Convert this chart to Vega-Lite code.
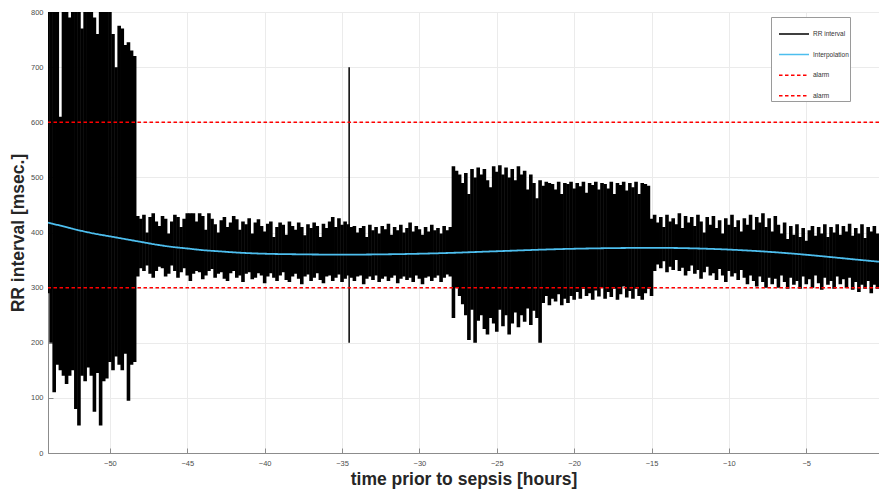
{
  "$schema": "https://vega.github.io/schema/vega-lite/v6.json",
  "width": 831,
  "height": 441,
  "autosize": {"type": "none"},
  "padding": {"left": 48, "top": 12, "right": 0, "bottom": 39},
  "background": "white",
  "config": {
    "font": "Liberation Sans",
    "view": {"stroke": "#8c8c8c", "strokeWidth": 1},
    "axis": {
      "domainColor": "#8c8c8c",
      "tickColor": "#8c8c8c",
      "gridColor": "#ebebeb",
      "grid": true,
      "labelFontSize": 7.5,
      "labelColor": "#4d4d4d",
      "titleFontSize": 17.5,
      "titleFontWeight": "bold",
      "titleColor": "#262626",
      "tickSize": -5
    },
    "legend": {
      "orient": "none",
      "legendX": 723,
      "legendY": 5,
      "symbolType": "stroke",
      "symbolSize": 900,
      "symbolStrokeWidth": 1.5,
      "symbolOffset": 6,
      "labelFontSize": 6.5,
      "labelColor": "#333333",
      "strokeColor": "#9a9a9a",
      "fillColor": "white",
      "padding": 1,
      "rowPadding": 0.6,
      "labelOffset": 3
    }
  },
  "datasets": {
    "rr": [
      {"t":-54.0,"lo":290,"hi":800},{"t":-53.8,"lo":200,"hi":800},{"t":-53.6,"lo":110,"hi":800},{"t":-53.4,"lo":160,"hi":800},
      {"t":-53.2,"lo":150,"hi":610},{"t":-53.0,"lo":140,"hi":800},{"t":-52.8,"lo":125,"hi":800},{"t":-52.6,"lo":140,"hi":790},
      {"t":-52.4,"lo":150,"hi":800},{"t":-52.2,"lo":80,"hi":800},{"t":-52.0,"lo":50,"hi":800},{"t":-51.8,"lo":140,"hi":770},
      {"t":-51.6,"lo":130,"hi":800},{"t":-51.4,"lo":155,"hi":800},{"t":-51.2,"lo":140,"hi":800},{"t":-51.0,"lo":75,"hi":790},
      {"t":-50.8,"lo":145,"hi":760},{"t":-50.6,"lo":50,"hi":800},{"t":-50.4,"lo":130,"hi":800},{"t":-50.2,"lo":135,"hi":800},
      {"t":-50.0,"lo":165,"hi":800},{"t":-49.8,"lo":150,"hi":760},{"t":-49.6,"lo":175,"hi":700},{"t":-49.4,"lo":160,"hi":775},
      {"t":-49.2,"lo":150,"hi":770},{"t":-49.0,"lo":180,"hi":740},{"t":-48.8,"lo":95,"hi":745},{"t":-48.6,"lo":160,"hi":730},
      {"t":-48.4,"lo":165,"hi":720},
      {"t":-48.2,"lo":320,"hi":430},{"t":-48.0,"lo":335,"hi":425},{"t":-47.8,"lo":330,"hi":432},{"t":-47.6,"lo":340,"hi":400},
      {"t":-47.4,"lo":325,"hi":428},{"t":-47.2,"lo":318,"hi":435},{"t":-47.0,"lo":330,"hi":420},{"t":-46.8,"lo":338,"hi":412},
      {"t":-46.6,"lo":335,"hi":430},{"t":-46.4,"lo":320,"hi":425},{"t":-46.2,"lo":325,"hi":398},{"t":-46.0,"lo":340,"hi":420},
      {"t":-45.8,"lo":330,"hi":432},{"t":-45.6,"lo":318,"hi":428},{"t":-45.4,"lo":328,"hi":410},{"t":-45.2,"lo":335,"hi":425},
      {"t":-45.0,"lo":322,"hi":435},{"t":-44.8,"lo":312,"hi":435},{"t":-44.6,"lo":325,"hi":435},{"t":-44.4,"lo":330,"hi":420},
      {"t":-44.2,"lo":328,"hi":435},{"t":-44.0,"lo":315,"hi":430},{"t":-43.8,"lo":322,"hi":405},{"t":-43.6,"lo":330,"hi":435},
      {"t":-43.4,"lo":334,"hi":425},{"t":-43.2,"lo":318,"hi":415},{"t":-43.0,"lo":325,"hi":400},{"t":-42.8,"lo":328,"hi":422},
      {"t":-42.6,"lo":316,"hi":428},{"t":-42.4,"lo":312,"hi":410},{"t":-42.2,"lo":326,"hi":418},{"t":-42.0,"lo":330,"hi":430},
      {"t":-41.8,"lo":318,"hi":424},{"t":-41.6,"lo":322,"hi":405},{"t":-41.4,"lo":310,"hi":420},{"t":-41.2,"lo":325,"hi":415},
      {"t":-41.0,"lo":328,"hi":426},{"t":-40.8,"lo":315,"hi":398},{"t":-40.6,"lo":318,"hi":418},{"t":-40.4,"lo":326,"hi":424},
      {"t":-40.2,"lo":322,"hi":412},{"t":-40.0,"lo":308,"hi":402},{"t":-39.8,"lo":320,"hi":416},{"t":-39.6,"lo":326,"hi":420},
      {"t":-39.4,"lo":318,"hi":392},{"t":-39.2,"lo":312,"hi":410},{"t":-39.0,"lo":322,"hi":418},{"t":-38.8,"lo":328,"hi":414},
      {"t":-38.6,"lo":314,"hi":396},{"t":-38.4,"lo":310,"hi":420},{"t":-38.2,"lo":320,"hi":412},{"t":-38.0,"lo":325,"hi":405},
      {"t":-37.8,"lo":316,"hi":418},{"t":-37.6,"lo":306,"hi":410},{"t":-37.4,"lo":320,"hi":395},{"t":-37.2,"lo":324,"hi":415},
      {"t":-37.0,"lo":312,"hi":408},{"t":-36.8,"lo":318,"hi":418},{"t":-36.6,"lo":326,"hi":412},{"t":-36.4,"lo":314,"hi":392},
      {"t":-36.2,"lo":308,"hi":416},{"t":-36.0,"lo":320,"hi":408},{"t":-35.8,"lo":322,"hi":420},{"t":-35.6,"lo":312,"hi":428},
      {"t":-35.4,"lo":318,"hi":410},{"t":-35.2,"lo":324,"hi":426},{"t":-35.0,"lo":310,"hi":414},{"t":-34.8,"lo":316,"hi":420},
      {"t":-34.6,"lo":322,"hi":415},{"t":-34.4,"lo":318,"hi":410},{"t":-34.2,"lo":312,"hi":412},{"t":-34.0,"lo":320,"hi":400},
      {"t":-33.8,"lo":322,"hi":408},{"t":-33.6,"lo":306,"hi":412},{"t":-33.4,"lo":316,"hi":392},{"t":-33.2,"lo":320,"hi":414},
      {"t":-33.0,"lo":314,"hi":404},{"t":-32.8,"lo":322,"hi":410},{"t":-32.6,"lo":310,"hi":398},{"t":-32.4,"lo":316,"hi":412},
      {"t":-32.2,"lo":320,"hi":406},{"t":-32.0,"lo":312,"hi":416},{"t":-31.8,"lo":318,"hi":396},{"t":-31.6,"lo":322,"hi":410},
      {"t":-31.4,"lo":308,"hi":404},{"t":-31.2,"lo":316,"hi":414},{"t":-31.0,"lo":320,"hi":400},{"t":-30.8,"lo":314,"hi":408},
      {"t":-30.6,"lo":318,"hi":418},{"t":-30.4,"lo":310,"hi":402},{"t":-30.2,"lo":322,"hi":412},{"t":-30.0,"lo":316,"hi":406},
      {"t":-29.8,"lo":306,"hi":396},{"t":-29.6,"lo":318,"hi":410},{"t":-29.4,"lo":320,"hi":402},{"t":-29.2,"lo":312,"hi":414},
      {"t":-29.0,"lo":318,"hi":404},{"t":-28.8,"lo":322,"hi":408},{"t":-28.6,"lo":310,"hi":398},{"t":-28.4,"lo":318,"hi":412},
      {"t":-28.2,"lo":324,"hi":404},{"t":-28.0,"lo":320,"hi":410},
      {"t":-27.8,"lo":245,"hi":520},{"t":-27.6,"lo":300,"hi":512},{"t":-27.4,"lo":285,"hi":505},{"t":-27.2,"lo":270,"hi":490},
      {"t":-27.0,"lo":250,"hi":508},{"t":-26.8,"lo":205,"hi":470},{"t":-26.6,"lo":260,"hi":515},{"t":-26.4,"lo":200,"hi":500},
      {"t":-26.2,"lo":240,"hi":518},{"t":-26.0,"lo":250,"hi":505},{"t":-25.8,"lo":225,"hi":515},{"t":-25.6,"lo":215,"hi":495},
      {"t":-25.4,"lo":245,"hi":482},{"t":-25.2,"lo":235,"hi":520},{"t":-25.0,"lo":220,"hi":510},{"t":-24.8,"lo":260,"hi":522},
      {"t":-24.6,"lo":230,"hi":505},{"t":-24.4,"lo":250,"hi":518},{"t":-24.2,"lo":215,"hi":500},{"t":-24.0,"lo":235,"hi":515},
      {"t":-23.8,"lo":255,"hi":495},{"t":-23.6,"lo":228,"hi":520},{"t":-23.4,"lo":250,"hi":505},{"t":-23.2,"lo":238,"hi":512},
      {"t":-23.0,"lo":262,"hi":478},{"t":-22.8,"lo":232,"hi":505},{"t":-22.6,"lo":258,"hi":490},{"t":-22.4,"lo":245,"hi":462},
      {"t":-22.2,"lo":200,"hi":495},{"t":-22.0,"lo":272,"hi":485},{"t":-21.8,"lo":285,"hi":492},{"t":-21.6,"lo":268,"hi":490},
      {"t":-21.4,"lo":280,"hi":488},{"t":-21.2,"lo":275,"hi":478},{"t":-21.0,"lo":288,"hi":492},{"t":-20.8,"lo":268,"hi":470},
      {"t":-20.6,"lo":280,"hi":490},{"t":-20.4,"lo":272,"hi":488},{"t":-20.2,"lo":285,"hi":492},{"t":-20.0,"lo":278,"hi":480},
      {"t":-19.8,"lo":292,"hi":490},{"t":-19.6,"lo":280,"hi":484},{"t":-19.4,"lo":298,"hi":492},{"t":-19.2,"lo":285,"hi":472},
      {"t":-19.0,"lo":290,"hi":490},{"t":-18.8,"lo":278,"hi":486},{"t":-18.6,"lo":295,"hi":492},{"t":-18.4,"lo":284,"hi":478},
      {"t":-18.2,"lo":300,"hi":490},{"t":-18.0,"lo":280,"hi":488},{"t":-17.8,"lo":292,"hi":480},{"t":-17.6,"lo":283,"hi":492},
      {"t":-17.4,"lo":298,"hi":470},{"t":-17.2,"lo":278,"hi":490},{"t":-17.0,"lo":288,"hi":486},{"t":-16.8,"lo":302,"hi":492},
      {"t":-16.6,"lo":282,"hi":476},{"t":-16.4,"lo":294,"hi":490},{"t":-16.2,"lo":280,"hi":482},{"t":-16.0,"lo":298,"hi":492},
      {"t":-15.8,"lo":285,"hi":470},{"t":-15.6,"lo":278,"hi":490},{"t":-15.4,"lo":290,"hi":488},{"t":-15.2,"lo":298,"hi":485},
      {"t":-15.0,"lo":285,"hi":425},{"t":-14.8,"lo":330,"hi":432},{"t":-14.6,"lo":342,"hi":418},{"t":-14.4,"lo":335,"hi":428},
      {"t":-14.2,"lo":348,"hi":410},{"t":-14.0,"lo":328,"hi":432},{"t":-13.8,"lo":338,"hi":420},{"t":-13.6,"lo":332,"hi":426},
      {"t":-13.4,"lo":350,"hi":415},{"t":-13.2,"lo":330,"hi":435},{"t":-13.0,"lo":336,"hi":408},{"t":-12.8,"lo":322,"hi":430},
      {"t":-12.6,"lo":330,"hi":418},{"t":-12.4,"lo":340,"hi":428},{"t":-12.2,"lo":325,"hi":412},{"t":-12.0,"lo":332,"hi":432},
      {"t":-11.8,"lo":316,"hi":420},{"t":-11.6,"lo":328,"hi":400},{"t":-11.4,"lo":338,"hi":428},{"t":-11.2,"lo":322,"hi":414},
      {"t":-11.0,"lo":326,"hi":430},{"t":-10.8,"lo":314,"hi":408},{"t":-10.6,"lo":334,"hi":422},{"t":-10.4,"lo":322,"hi":398},
      {"t":-10.2,"lo":310,"hi":426},{"t":-10.0,"lo":330,"hi":414},{"t":-9.8,"lo":320,"hi":432},{"t":-9.6,"lo":326,"hi":410},
      {"t":-9.4,"lo":314,"hi":422},{"t":-9.2,"lo":332,"hi":402},{"t":-9.0,"lo":318,"hi":426},{"t":-8.8,"lo":306,"hi":414},
      {"t":-8.6,"lo":322,"hi":432},{"t":-8.4,"lo":312,"hi":405},{"t":-8.2,"lo":302,"hi":428},{"t":-8.0,"lo":320,"hi":418},
      {"t":-7.8,"lo":310,"hi":435},{"t":-7.6,"lo":300,"hi":410},{"t":-7.4,"lo":318,"hi":426},{"t":-7.2,"lo":306,"hi":402},
      {"t":-7.0,"lo":316,"hi":430},{"t":-6.8,"lo":300,"hi":414},{"t":-6.6,"lo":322,"hi":398},{"t":-6.4,"lo":310,"hi":418},
      {"t":-6.2,"lo":298,"hi":388},{"t":-6.0,"lo":318,"hi":412},{"t":-5.8,"lo":305,"hi":396},{"t":-5.6,"lo":312,"hi":415},
      {"t":-5.4,"lo":298,"hi":392},{"t":-5.2,"lo":320,"hi":408},{"t":-5.0,"lo":306,"hi":385},{"t":-4.8,"lo":315,"hi":404},
      {"t":-4.6,"lo":300,"hi":412},{"t":-4.4,"lo":322,"hi":394},{"t":-4.2,"lo":308,"hi":410},{"t":-4.0,"lo":296,"hi":398},
      {"t":-3.8,"lo":318,"hi":415},{"t":-3.6,"lo":305,"hi":392},{"t":-3.4,"lo":312,"hi":410},{"t":-3.2,"lo":298,"hi":400},
      {"t":-3.0,"lo":320,"hi":415},{"t":-2.8,"lo":306,"hi":396},{"t":-2.6,"lo":315,"hi":412},{"t":-2.4,"lo":300,"hi":402},
      {"t":-2.2,"lo":318,"hi":416},{"t":-2.0,"lo":296,"hi":394},{"t":-1.8,"lo":310,"hi":408},{"t":-1.6,"lo":292,"hi":398},
      {"t":-1.4,"lo":305,"hi":415},{"t":-1.2,"lo":298,"hi":390},{"t":-1.0,"lo":312,"hi":410},{"t":-0.8,"lo":290,"hi":402},
      {"t":-0.6,"lo":305,"hi":412},{"t":-0.4,"lo":298,"hi":398}
    ],
    "spike": [{"t":-34.54,"lo":200,"hi":700}],
    "alarm": [{"v":600,"s":"alarm"},{"v":300,"s":"alarm "}],
    "interp": [
      {"t":-54,"v":418},{"t":-53,"v":411},{"t":-52,"v":404},{"t":-51,"v":398},{"t":-50,"v":393},
      {"t":-49,"v":388},{"t":-48,"v":383},{"t":-47,"v":378},{"t":-46,"v":374},{"t":-45,"v":371},
      {"t":-44,"v":368},{"t":-43,"v":366},{"t":-42,"v":364},{"t":-41,"v":362.5},{"t":-40,"v":361.5},
      {"t":-38,"v":360.5},{"t":-36,"v":360},{"t":-34,"v":360},{"t":-32,"v":360.5},{"t":-30,"v":361.5},
      {"t":-28,"v":363},{"t":-26,"v":365},{"t":-24,"v":367},{"t":-22,"v":369},{"t":-20,"v":370.5},
      {"t":-18,"v":371.5},{"t":-16,"v":372},{"t":-14,"v":372},{"t":-12,"v":371},{"t":-10,"v":369},
      {"t":-8,"v":366},{"t":-6,"v":362},{"t":-4,"v":357},{"t":-2,"v":351.5},{"t":-0.3,"v":347}
    ]
  },
  "layer": [
    {
      "data": {"name": "rr"},
      "mark": {"type": "rule", "strokeWidth": 3.6, "clip": true},
      "encoding": {
        "x": {
          "field": "t", "type": "quantitative",
          "scale": {"domain": [-54, -0.3], "nice": false, "zero": false},
          "axis": {"title": "time prior to sepsis [hours]", "values": [-50,-45,-40,-35,-30,-25,-20,-15,-10,-5], "labelPadding": 11, "titlePadding": 4}
        },
        "y": {
          "field": "lo", "type": "quantitative",
          "scale": {"domain": [0, 800], "nice": false},
          "axis": {"title": "RR interval [msec.]", "values": [0,100,200,300,400,500,600,700,800], "labelPadding": 10, "titlePadding": 3}
        },
        "y2": {"field": "hi"},
        "color": {
          "datum": "RR interval", "type": "nominal",
          "scale": {"domain": ["RR interval","Interpolation","alarm","alarm "], "range": ["#000000","#4DBEEE","#FF0000","#FF0000"]},
          "legend": {"title": null}
        },
        "strokeDash": {
          "datum": "RR interval", "type": "nominal",
          "scale": {"domain": ["RR interval","Interpolation","alarm","alarm "], "range": [[1,0],[1,0],[3.5,2.5],[3.5,2.5]]},
          "legend": {"title": null}
        }
      }
    },
    {
      "data": {"name": "spike"},
      "mark": {"type": "rule", "strokeWidth": 1.5, "color": "#000000", "clip": true},
      "encoding": {
        "x": {"field": "t", "type": "quantitative"},
        "y": {"field": "lo", "type": "quantitative"},
        "y2": {"field": "hi"}
      }
    },
    {
      "data": {"name": "alarm"},
      "mark": {"type": "rule", "strokeWidth": 1.5},
      "encoding": {
        "y": {"field": "v", "type": "quantitative"},
        "color": {"field": "s", "type": "nominal", "legend": {"title": null}},
        "strokeDash": {"field": "s", "type": "nominal", "legend": {"title": null}}
      }
    },
    {
      "data": {"name": "interp"},
      "mark": {"type": "line", "strokeWidth": 1.8, "interpolate": "monotone", "clip": true},
      "encoding": {
        "x": {"field": "t", "type": "quantitative"},
        "y": {"field": "v", "type": "quantitative"},
        "color": {"datum": "Interpolation", "type": "nominal", "legend": {"title": null}},
        "strokeDash": {"datum": "Interpolation", "type": "nominal", "legend": {"title": null}}
      }
    }
  ]
}
